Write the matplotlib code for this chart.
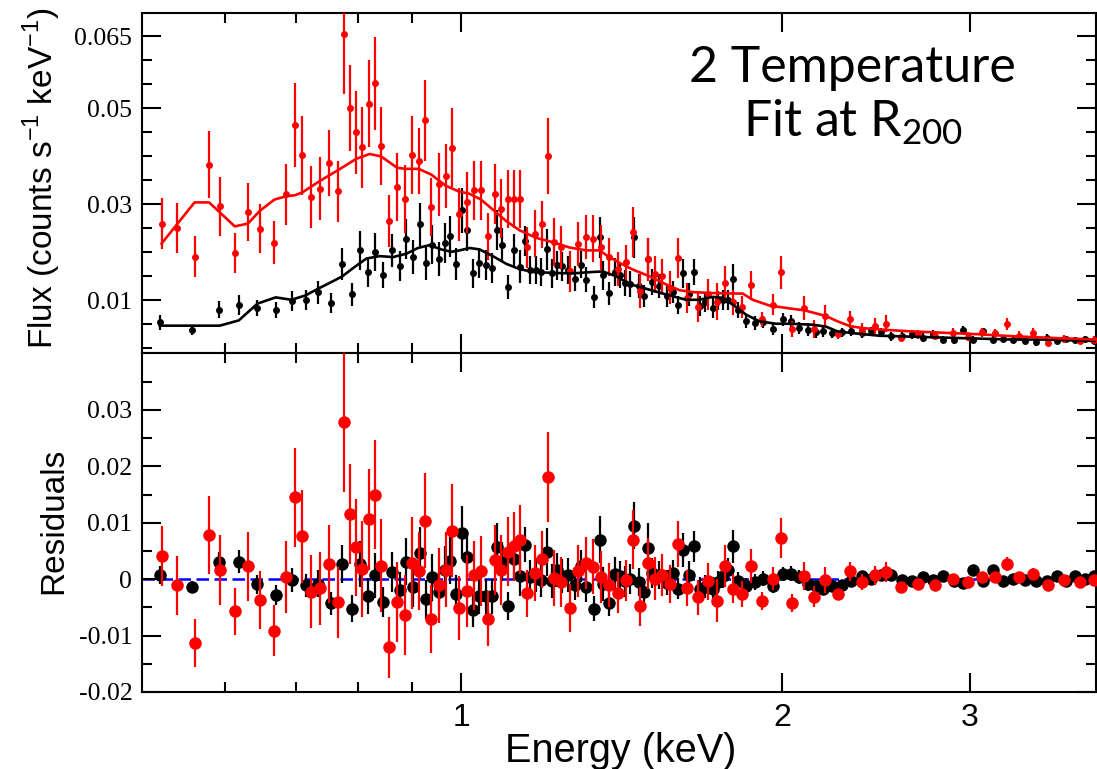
import numpy as np
import matplotlib
matplotlib.use('agg')
import matplotlib.pyplot as plt
from matplotlib.ticker import FixedLocator, NullFormatter

# group 1 spectrum (black): energy (keV), flux, 1-sigma error, residual
e_black = [0.5217, 0.5587, 0.5929, 0.6187, 0.6442, 0.6701, 0.6936, 0.7149, 0.7348, 0.7554,
           0.7732, 0.7900, 0.8045, 0.8178, 0.8303, 0.8447, 0.8613, 0.8757, 0.8885, 0.9012,
           0.9143, 0.9263, 0.9397, 0.9526, 0.9650, 0.9766, 0.9889, 1.0017, 1.0130,
           1.0258, 1.0392, 1.0543, 1.0687, 1.0812, 1.0930, 1.1073, 1.1217, 1.1345, 1.1476,
           1.1610, 1.1745, 1.1890, 1.2026, 1.2157, 1.2296, 1.2441, 1.2584, 1.2784, 1.2950,
           1.3110, 1.3319, 1.3484, 1.3600, 1.3778, 1.3928, 1.4100, 1.4252, 1.4407, 1.4541,
           1.4699, 1.4849, 1.4978, 1.5094, 1.5348, 1.5591, 1.5795, 1.5979, 1.6164, 1.6349,
           1.6552, 1.6757, 1.6949, 1.7219, 1.7420, 1.7595, 1.7786, 1.7978, 1.8189, 1.8507,
           1.8853, 1.9211, 1.9630, 2.0036,
           2.0394, 2.0762, 2.1137, 2.1506, 2.1866, 2.2280, 2.2765, 2.3212, 2.3769, 2.4234,
           2.4763, 2.5304, 2.5912, 2.6493, 2.7091, 2.7680, 2.8284, 2.8977, 2.9577, 3.0177,
           3.0883, 3.1508, 3.2243, 3.2967, 3.3788, 3.4646, 3.5431, 3.6205, 3.6962, 3.7663,
           3.8459, 3.9240]
flux_black = [0.0054, 0.0037, 0.008, 0.009, 0.0084, 0.0079, 0.0098, 0.0101, 0.0117, 0.0095,
              0.0176, 0.0112, 0.0204, 0.0159, 0.02, 0.0152, 0.0204, 0.0172, 0.0228, 0.019,
              0.0258, 0.0177, 0.0216, 0.0186, 0.0219, 0.0233, 0.0176, 0.0288, 0.0246,
              0.0156, 0.0178, 0.0174, 0.0168, 0.0246, 0.0215, 0.0128, 0.0204, 0.017, 0.0224,
              0.0163, 0.0163, 0.0159, 0.0206, 0.0156, 0.0173, 0.0171, 0.0163, 0.0145, 0.0174,
              0.0143, 0.0107, 0.0231, 0.0152, 0.0115, 0.0159, 0.0152, 0.0136, 0.0134, 0.0231,
              0.0129, 0.0108, 0.0185, 0.0138, 0.0129, 0.0108, 0.0117, 0.009, 0.0156, 0.0112,
              0.0159, 0.0088, 0.0096, 0.0084, 0.01, 0.01, 0.0101, 0.0145, 0.0079, 0.0056,
              0.0053, 0.0055, 0.004, 0.006,
              0.0056, 0.0042, 0.0039, 0.0033, 0.0035, 0.0031, 0.0033, 0.0035, 0.0031, 0.0035,
              0.0033, 0.0025, 0.0026, 0.0029, 0.0022, 0.0029, 0.0018, 0.0017, 0.0039, 0.0018,
              0.0035, 0.0018, 0.002, 0.0018, 0.0015, 0.0012, 0.0022, 0.0014, 0.002, 0.0017,
              0.002, 0.0015]
err_black = [0.0016, 0.001, 0.0018, 0.002, 0.0017, 0.0017, 0.0021, 0.0021, 0.0024, 0.0021,
             0.0033, 0.0024, 0.0041, 0.0032, 0.004, 0.0027, 0.0035, 0.0031, 0.0042, 0.0035,
             0.0045, 0.0035, 0.0041, 0.0035, 0.0042, 0.0042, 0.0033, 0.0047, 0.0043,
             0.003, 0.0031, 0.0031, 0.0031, 0.0042, 0.0035, 0.0025, 0.0035, 0.0035, 0.0031,
             0.003, 0.003, 0.003, 0.0042, 0.003, 0.003, 0.003, 0.003, 0.0026, 0.0028,
             0.0026, 0.0023, 0.0042, 0.003, 0.0024, 0.0029, 0.0027, 0.0027, 0.0027, 0.0042,
             0.0025, 0.0023, 0.0044, 0.0027, 0.0025, 0.0022, 0.0023, 0.0019, 0.003, 0.0024,
             0.0027, 0.002, 0.0021, 0.002, 0.002, 0.0021, 0.0021, 0.003, 0.0017, 0.0014,
             0.0014, 0.0013, 0.0012, 0.0013,
             0.0013, 0.0013, 0.0013, 0.0011, 0.0011, 0.001, 0.001, 0.001, 0.001, 0.001,
             0.001, 0.0009, 0.0009, 0.0009, 0.0009, 0.0009, 0.0008, 0.0008, 0.0008, 0.0008,
             0.0008, 0.0008, 0.0007, 0.0007, 0.0007, 0.0007, 0.0007, 0.0006, 0.0006, 0.0006,
             0.0006, 0.0006]
res_black = [0.0007, -0.0013, 0.0031, 0.0031, -0.0009, -0.0028, -0.0002, -0.0011, -0.0008, -0.0043,
             0.0027, -0.0052, 0.0027, -0.003, 0.0007, -0.004, 0.0013, -0.0019, 0.0031, -0.0014,
             0.0047, -0.0036, 0.0003, -0.0022, 0.0017, 0.0033, -0.0026, 0.0082, 0.0039,
             -0.0055, -0.003, -0.003, -0.003, 0.0057, 0.0031, -0.0048, 0.0036, 0.0006, 0.0061,
             0.0004, 0.0008, -0.0001, 0.0048, -0.0003, 0.0016, 0.0005, 0.0008, -0.0011, 0.0023,
             -0.0014, -0.0052, 0.007, -0.0008, -0.0042, 0.001, 0.0005, -0.0004, 0.0, 0.0095,
             -0.0005, -0.0022, 0.0055, 0.0011, 0.0008, -0.0006, 0.0011, -0.0017, 0.0051, 0.0008,
             0.0058, -0.0017, -0.0013, -0.0017, -0.0005, 0.0005, 0.0017, 0.0058, -0.0004, -0.0012,
             -0.0005, 0.0001, -0.0012, 0.0009,
             0.001, 0.0004, -0.0008, -0.0012, -0.0017, -0.0012, -0.0011, -0.0004, 0.0005, 0.0,
             0.0007, 0.0008, -0.0002, -0.0004, 0.0004, -0.0002, 0.0005, -0.0004, -0.0006, 0.0016,
             -0.0004, 0.0016, -0.0004, 0.0, -0.0002, -0.0004, -0.0004, 0.0005, -0.0004, 0.0005,
             0.0, 0.0005]

# group 2 spectrum (red)
e_red = [0.5236, 0.5420, 0.5623, 0.5803, 0.5947, 0.6134, 0.6312, 0.6478, 0.6683, 0.6858,
         0.6986, 0.7099, 0.7227, 0.7374, 0.7518, 0.7661, 0.7772, 0.7861, 0.7976, 0.8080,
         0.8190, 0.8297, 0.8411, 0.8551, 0.8714, 0.8866, 0.8993, 0.9124, 0.9249, 0.9377,
         0.9526, 0.9671, 0.9797, 0.9946, 1.0120,
         1.0289, 1.0437, 1.0605, 1.0766, 1.0907, 1.1055, 1.1200, 1.1353, 1.1526, 1.1727,
         1.1915, 1.2053, 1.2209, 1.2403, 1.2638, 1.2877, 1.3102, 1.3310, 1.3542, 1.3778,
         1.4038, 1.4292, 1.4500, 1.4731, 1.4987, 1.5215, 1.5447, 1.5716, 1.5979, 1.6279,
         1.6670, 1.7049, 1.7383, 1.7685, 1.8006, 1.8359, 1.8719, 1.9139, 1.9616, 1.9970,
         2.0437, 2.0988, 2.1446, 2.1960, 2.2550, 2.3162, 2.3784, 2.4445, 2.5033, 2.5857,
         2.6800, 2.7843, 2.8902, 2.9898, 3.0796, 3.1692, 3.2501, 3.3374, 3.4421, 3.5554,
         3.6803, 3.8072, 3.9240]
flux_red = [0.026, 0.0251, 0.0191, 0.0383, 0.0296, 0.0199, 0.0284, 0.0249, 0.022, 0.0321,
            0.0465, 0.0402, 0.0315, 0.0333, 0.0386, 0.0327, 0.0655, 0.0501, 0.045, 0.0419,
            0.051, 0.0552, 0.0422, 0.0266, 0.0337, 0.0311, 0.0403, 0.039, 0.0475, 0.0294,
            0.0342, 0.0359, 0.0418, 0.0279, 0.0304,
            0.0329, 0.0329, 0.0233, 0.0322, 0.0291, 0.0311, 0.0311, 0.0311, 0.021, 0.0239,
            0.0258, 0.0401, 0.0222, 0.021, 0.016, 0.0218, 0.0232, 0.0228, 0.021, 0.019,
            0.0165, 0.0179, 0.0243, 0.0119, 0.0185, 0.0154, 0.015, 0.0126, 0.0188, 0.0105,
            0.0086, 0.0112, 0.0097, 0.0135, 0.0096, 0.0086, 0.0131, 0.006, 0.0091, 0.0158,
            0.004, 0.0084, 0.004, 0.0067, 0.0029, 0.006, 0.0039, 0.0046, 0.0051, 0.0022,
            0.0029, 0.0025, 0.0032, 0.0024, 0.0033, 0.0031, 0.0051, 0.0026, 0.0032, 0.0011,
            0.002, 0.0015, 0.0018]
err_red = [0.0053, 0.0052, 0.0042, 0.0069, 0.0062, 0.0042, 0.0061, 0.0051, 0.0045, 0.0064,
           0.0088, 0.0082, 0.0064, 0.0065, 0.0069, 0.0063, 0.0125, 0.0089, 0.0086, 0.0085,
           0.009, 0.0096, 0.0082, 0.0054, 0.0071, 0.0071, 0.0081, 0.0069, 0.0085, 0.006,
           0.0066, 0.0066, 0.0082, 0.0056, 0.0063,
           0.0061, 0.0062, 0.0049, 0.0062, 0.0062, 0.0061, 0.0061, 0.0061, 0.0042, 0.0049,
           0.005, 0.008, 0.005, 0.0045, 0.0043, 0.0046, 0.0046, 0.0049, 0.0046, 0.0039,
           0.0036, 0.0036, 0.0052, 0.0035, 0.0045, 0.0038, 0.0037, 0.0034, 0.0041, 0.0032,
           0.0031, 0.0033, 0.0038, 0.0037, 0.0026, 0.0023, 0.003, 0.0016, 0.0021, 0.0035,
           0.0016, 0.0025, 0.0019, 0.0023, 0.001, 0.0017, 0.0014, 0.0017, 0.0018, 0.0007,
           0.0009, 0.0008, 0.001, 0.0009, 0.0009, 0.0009, 0.0012, 0.0009, 0.001, 0.0007,
           0.0007, 0.0007, 0.0007]
res_red = [0.0041, -0.0011, -0.0113, 0.0079, 0.0017, -0.0057, 0.0023, -0.0037, -0.0091, 0.0004,
           0.0145, 0.0076, -0.0022, -0.0016, 0.0027, -0.0041, 0.0279, 0.0116, 0.0057, 0.0018,
           0.0106, 0.015, 0.0024, -0.0121, -0.0041, -0.0064, 0.0029, 0.0015, 0.0104, -0.007,
           -0.0011, 0.0017, 0.0086, -0.0051, -0.0021,
           0.0007, 0.0014, -0.007, 0.0034, 0.0016, 0.0049, 0.0058, 0.007, -0.0025, 0.0011,
           0.0035, 0.0181, 0.0002, -0.0005, -0.0051, 0.0014, 0.0029, 0.0022, 0.0004, -0.001,
           -0.0024, -0.0002, 0.007, -0.0048, 0.0028, 0.0001, 0.0007, -0.0008, 0.0062, -0.0016,
           -0.0032, -0.0004, -0.0038, 0.0023, -0.0017, -0.0026, 0.0023, -0.0038, 0.0001, 0.0073,
           -0.0042, 0.0005, -0.0031, -0.0002, -0.0027, 0.0014, -0.0005, 0.0007, 0.0013, -0.0013,
           -0.0008, -0.0011, 0.0, -0.0005, 0.0004, 0.0004, 0.0027, 0.0004, 0.001, -0.001,
           -0.0002, -0.0005, -0.0002]

# folded 2T model curves
model_e_black = [0.5217, 0.5587, 0.5938, 0.6187, 0.6442, 0.6701, 0.6932, 0.7145, 0.7342, 0.7557,
                 0.7739, 0.7918, 0.8150, 0.8387, 0.8631, 0.8885, 0.9110, 0.9343, 0.9582, 0.9791,
                 0.9968, 1.0185, 1.0407, 1.0710, 1.1024, 1.1345, 1.1676, 1.2191, 1.2729, 1.3290,
                 1.3580, 1.3978, 1.4385, 1.4913, 1.5571, 1.6258, 1.6732, 1.7219, 1.7595, 1.7978,
                 1.8507, 1.9045, 1.9744, 2.0318, 2.1366, 2.1993, 2.2550, 2.3162, 2.4673, 2.6502,
                 2.8494, 3.0615, 3.2897, 3.5357, 3.938]
model_black = [0.0047, 0.0047, 0.0047, 0.0058, 0.0093, 0.0106, 0.0101, 0.011, 0.0124, 0.0138,
               0.015, 0.0167, 0.0187, 0.0192, 0.019, 0.0197, 0.0209, 0.0215, 0.0206, 0.0201,
               0.0204, 0.0209, 0.0206, 0.0192, 0.0176, 0.0165, 0.0159, 0.0157, 0.0156, 0.0159,
               0.016, 0.015, 0.0134, 0.0124, 0.0112, 0.0101, 0.0101, 0.0107, 0.0105, 0.0091,
               0.007, 0.0056, 0.0051, 0.0051, 0.0049, 0.0045, 0.0035, 0.0032, 0.0026, 0.0024,
               0.0022, 0.002, 0.0018, 0.0018, 0.0015]
model_e_red = [0.5236, 0.5623, 0.5803, 0.6134, 0.6312, 0.6478, 0.6683, 0.6858, 0.6986, 0.7099,
               0.7374, 0.7661, 0.7976, 0.8208, 0.8411, 0.8714, 0.8885, 0.9124, 0.9377, 0.9671,
               0.9946, 1.0185, 1.0437, 1.0710, 1.1024, 1.1345, 1.1762, 1.2191, 1.2638, 1.3102,
               1.3484, 1.3727, 1.4078, 1.4488, 1.5020, 1.5571, 1.6024, 1.6491, 1.7219, 1.7978,
               1.8370, 1.8771, 1.9460, 2.0318, 2.0988, 2.1993, 2.2550, 2.3162, 2.3800, 2.4673,
               2.6493, 2.8494, 3.0615, 3.2897, 3.5357, 3.938]
model_red = [0.0218, 0.0304, 0.0304, 0.0254, 0.026, 0.0287, 0.031, 0.0317, 0.0319, 0.0325,
             0.0349, 0.0371, 0.0395, 0.0405, 0.04, 0.0376, 0.0374, 0.0374, 0.0362, 0.0339,
             0.0327, 0.0322, 0.031, 0.0289, 0.0265, 0.0246, 0.023, 0.0221, 0.021, 0.0204,
             0.0204, 0.0192, 0.0178, 0.0164, 0.015, 0.0133, 0.0121, 0.0117, 0.0115, 0.0114,
             0.0114, 0.0101, 0.0089, 0.0083, 0.0079, 0.0067, 0.0056, 0.0046, 0.0042, 0.0039,
             0.0035, 0.0032, 0.0029, 0.0025, 0.0022, 0.0018]

x_ticks = [1, 2, 3]
x_minor = [0.6, 0.7, 0.8, 0.9]
flux_ticks = [0.01, 0.03, 0.05, 0.065]
flux_labels = ['0.01', '0.03', '0.05', '0.065']
res_ticks = [-0.02, -0.01, 0, 0.01, 0.02, 0.03]
res_labels = ['-0.02', '-0.01', '0', '0.01', '0.02', '0.03']

W, H = 1097, 769
fig = plt.figure(figsize=(W / 100, H / 100), dpi=100)
left, right = 142 / W, 1096 / W
ax1 = fig.add_axes([left, 1 - 353 / H, right - left, 340 / H])
ax2 = fig.add_axes([left, 1 - 692 / H, right - left, 339 / H])


def style(ax):
    ax.set_xscale('log')
    ax.set_xlim(0.502, 3.94)
    ax.xaxis.set_major_locator(FixedLocator(x_ticks))
    ax.xaxis.set_minor_locator(FixedLocator(x_minor))
    ax.xaxis.set_minor_formatter(NullFormatter())
    ax.tick_params(which='both', direction='in', top=True, right=True, width=1.5)
    ax.tick_params(which='major', length=14)
    ax.tick_params(which='minor', length=7)
    for s in ax.spines.values():
        s.set_linewidth(1.5)


style(ax1)
style(ax2)

# top: folded spectra with model
ax1.errorbar(e_black, flux_black, yerr=err_black, fmt='o', color='black', ms=5,
             mew=0, elinewidth=1.6, capsize=0, zorder=2)
ax1.errorbar(e_red, flux_red, yerr=err_red, fmt='o', color='red', ms=5,
             mew=0, elinewidth=1.6, capsize=0, zorder=3)
ax1.plot(model_e_black, model_black, color='black', lw=1.9, zorder=4)
ax1.plot(model_e_red, model_red, color='red', lw=1.9, zorder=4)
ax1.set_ylim(-0.001, 0.0699)
ax1.yaxis.set_major_locator(FixedLocator(flux_ticks))
ax1.yaxis.set_minor_locator(FixedLocator(np.arange(0, 0.0701, 0.005)))
ax1.set_yticklabels(flux_labels, fontfamily='Liberation Serif', fontsize=18.5)
ax1.set_xticklabels([])
ax1.tick_params(axis='y', which='major', pad=7)

# bottom: residuals
ax2.axhline(0, color='blue', lw=1.8, ls=(0, (5, 2.2)), zorder=1)
ax2.errorbar(e_black, res_black, yerr=err_black, fmt='o', color='black', ms=9,
             mew=0, elinewidth=1.6, capsize=0, zorder=2)
ax2.errorbar(e_red, res_red, yerr=err_red, fmt='o', color='red', ms=9,
             mew=0, elinewidth=1.6, capsize=0, zorder=3)
ax2.set_ylim(-0.02, 0.0401)
ax2.yaxis.set_major_locator(FixedLocator(res_ticks))
ax2.yaxis.set_minor_locator(FixedLocator(np.arange(-0.015, 0.0401, 0.01)))
ax2.set_yticklabels(res_labels, fontfamily='Liberation Serif', fontsize=18.5)
ax2.set_xticklabels([str(t) for t in x_ticks], fontfamily='Liberation Sans', fontsize=23)
ax2.tick_params(axis='x', which='major', pad=8)
ax2.tick_params(axis='y', which='major', pad=7)

fig.text(42 / W, 1 - 178 / H, 'Flux (counts s$^{\\mathregular{-1}}$ keV$^{\\mathregular{-1}}$)',
         rotation=90, ha='center', va='center', fontfamily='Liberation Sans', fontsize=24)
fig.text(54 / W, 1 - 521 / H, 'Residuals', rotation=90, ha='center', va='center',
         fontfamily='Liberation Sans', fontsize=24)
fig.text(621 / W, 1 - 762 / H, 'Energy (keV)', ha='center', va='baseline',
         fontfamily='Liberation Sans', fontsize=28.5)

fig.text(852 / W, 1 - 82 / H, '2 Temperature', ha='center', va='baseline',
         fontfamily='Lato', fontweight='normal', color='black', fontsize=36)
fig.text(853 / W, 1 - 137 / H, 'Fit at R$_{\\mathregular{200}}$', ha='center', va='baseline',
         fontfamily='Lato', fontweight='normal', color='black', fontsize=36)

fig.savefig('out.png', dpi=100)
